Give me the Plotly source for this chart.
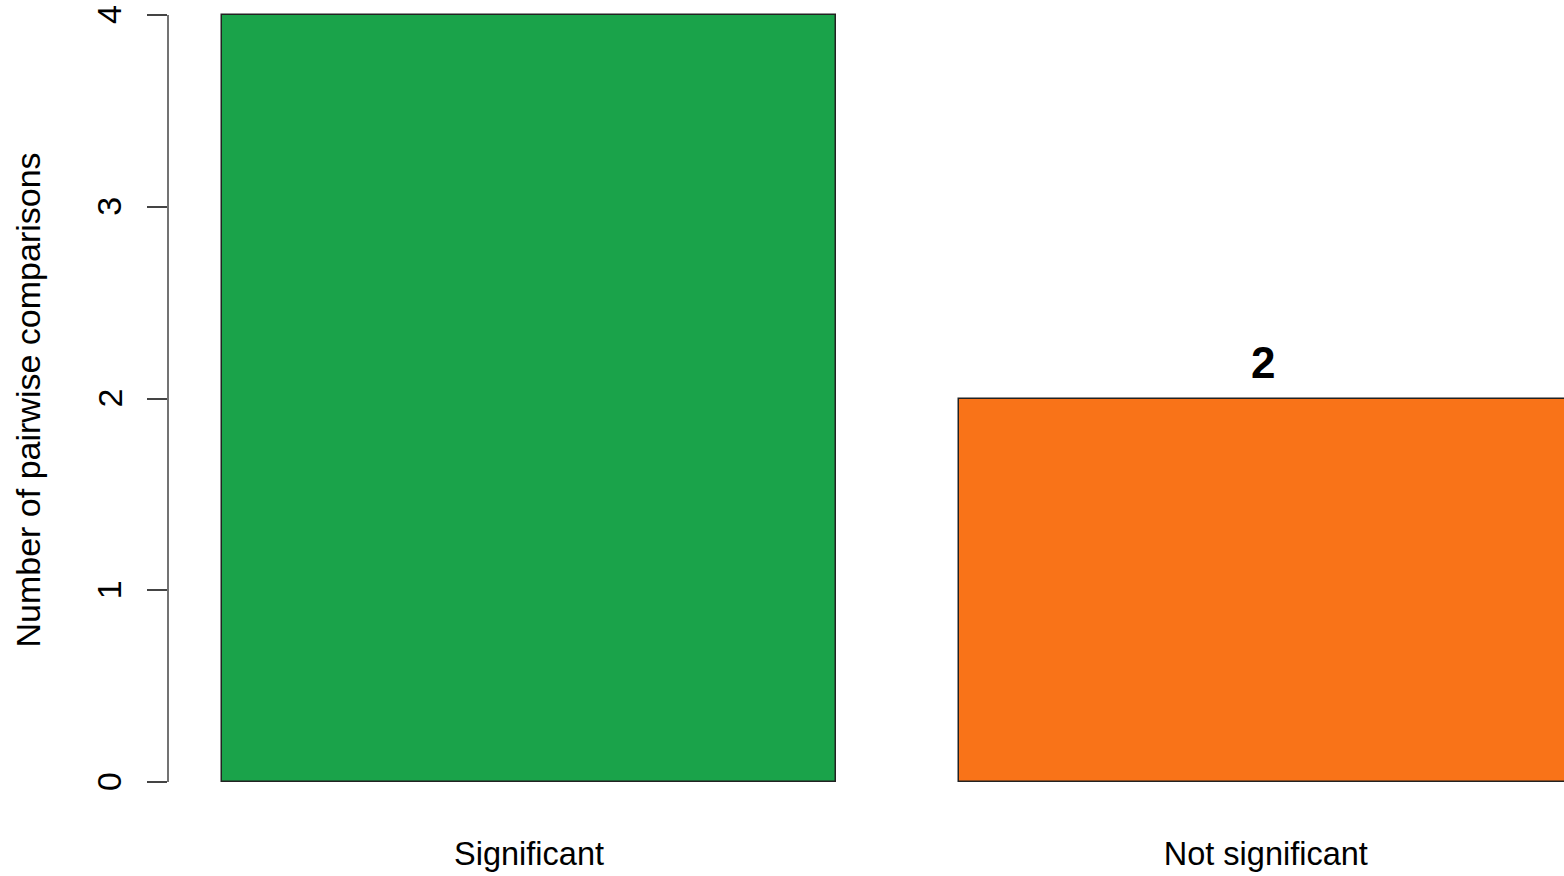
import plotly.graph_objects as go

categories = ["Significant", "Not significant"]
counts = [4, 2]
bar_colors = ["#1AA34A", "#F97318"]
y_ticks = [0, 1, 2, 3, 4]
y_title = "Number of pairwise comparisons"

# R barplot geometry: width 1, space 0.2
bar_pos = [0.2 + 0.5 + i * 1.2 for i in range(len(categories))]

FONT = "Liberation Sans, Arial, sans-serif"
W, H = 1564, 876
ml, mr, mt, mb = 168, 0, 0, 63
px_per_x = 614.0
px_per_y = 191.75
x0 = 0.112
x1 = x0 + (W - ml - mr) / px_per_x
ytop = 4 + 15 / px_per_y
ybot = ytop - (H - mt - mb) / px_per_y
plot_w = W - ml - mr
plot_h = H - mt - mb

fig = go.Figure()
fig.add_trace(go.Bar(
    x=bar_pos, y=counts, width=1.0,
    marker=dict(color=bar_colors, line=dict(color="#222222", width=1.5)),
    hoverinfo="skip", showlegend=False,
))

for xp, v in zip(bar_pos, counts):
    fig.add_annotation(x=xp, y=v, xref="x", yref="y", text=f"<b>{v}</b>",
                       showarrow=False, yanchor="middle", yshift=36, xshift=-3,
                       font=dict(family=FONT, size=44, color="black"))

# y tick labels (rotated, parallel to axis as in R)
for t in y_ticks:
    fig.add_annotation(x=(109 - ml) / plot_w, y=t, xref="paper", yref="y", text=str(t),
                       textangle=-90, showarrow=False, xanchor="center", yanchor="middle",
                       font=dict(family=FONT, size=34, color="black"))

fig.add_annotation(x=(27 - ml) / plot_w, y=1 - 400.5 / plot_h,
                   xref="paper", yref="paper", text=y_title, textangle=-90,
                   showarrow=False, xanchor="center", yanchor="middle",
                   font=dict(family=FONT, size=34, color="black"))

# y axis line only from 0 to 4
fig.add_shape(type="line", xref="paper", yref="y", x0=0, x1=0, y0=min(y_ticks), y1=max(y_ticks),
              line=dict(color="#444444", width=1.5))

fig.update_layout(
    width=W, height=H,
    margin=dict(l=ml, r=mr, t=mt, b=mb, pad=0),
    plot_bgcolor="white", paper_bgcolor="white",
    font=dict(family=FONT, size=32.5, color="black"),
    bargap=0,
    xaxis=dict(range=[x0, x1], tickvals=bar_pos, ticktext=categories,
               showgrid=False, zeroline=False, showline=False, ticks="",
               ticklabelstandoff=18, tickfont=dict(size=32.5)),
    yaxis=dict(range=[ybot, ytop], tickvals=y_ticks, showticklabels=False,
               showgrid=False, zeroline=False, showline=False,
               ticks="outside", ticklen=20, tickwidth=1.5, tickcolor="#444444"),
)

fig.write_html("out.html", config={"displayModeBar": False},
               post_script="document.body.style.margin='0';document.body.style.overflow='hidden';")
